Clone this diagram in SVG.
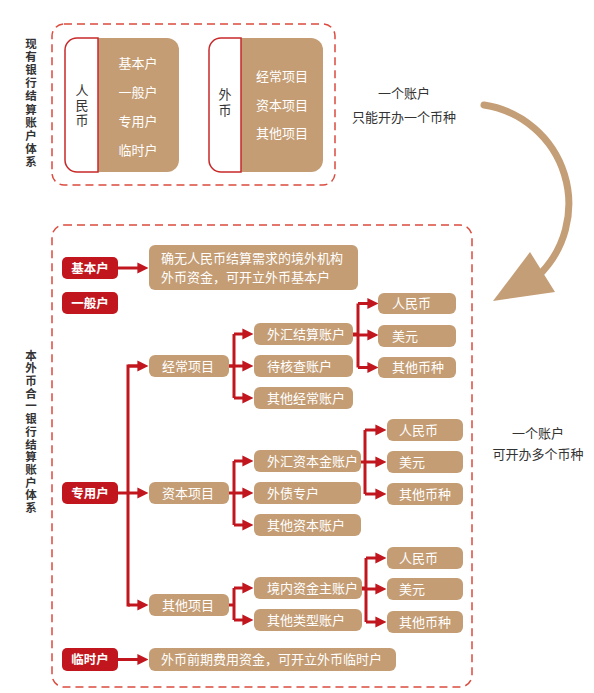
<svg xmlns="http://www.w3.org/2000/svg" width="594" height="693" viewBox="0 0 594 693">
<defs>
<style>
text{font-family:"Noto Sans CJK SC","Noto Sans",sans-serif;}
.dash{fill:none;stroke:#dc4b3e;stroke-width:1.5;stroke-dasharray:8 5;}
.tan{fill:#c49d74;}
.wt{fill:#ffffff;font-size:13px;}
.dk{fill:#333333;font-size:13px;}
.dkv{fill:#333333;font-size:13px;writing-mode:vertical-rl;}
.vt{fill:#333333;font-size:11.5px;font-weight:bold;writing-mode:vertical-rl;}
.red{fill:#c1161e;}
.rt{fill:#ffffff;font-size:12.5px;font-weight:bold;}
.cw{fill:#ffffff;stroke:#c8282a;stroke-width:1.5;}
.ln{fill:none;stroke:#c1161e;stroke-width:3;}
.ar{fill:none;stroke:#c1161e;stroke-width:3;marker-end:url(#ah);}
</style>
<marker id="ah" viewBox="0 0 10 10" refX="6" refY="5" markerWidth="11" markerHeight="12" markerUnits="userSpaceOnUse" orient="auto">
<path d="M0,0 L10,5 L0,10 Z" fill="#c1161e"/>
</marker>
</defs>

<!-- Top section -->
<rect class="dash" x="52" y="24" width="283" height="161" rx="12"/>
<g id="title-top">
<text class="vt" x="31" y="37.5" letter-spacing="1.7">现有银行结算账户体系</text>
</g>
<g id="card-rmb">
<rect class="tan" x="86" y="38" width="93" height="134" rx="12"/>
<path class="cw" d="M98,38 H77 A12,12 0 0 0 65,50 V160 A12,12 0 0 0 77,172 H98 Z"/>
<text class="dkv" x="82" y="83.5" letter-spacing="2">人民币</text>
<text class="wt" text-anchor="middle"><tspan x="138" y="67.5">基本户</tspan><tspan x="138" y="96.5">一般户</tspan><tspan x="138" y="125.5">专用户</tspan><tspan x="138" y="154.5">临时户</tspan></text>
</g>
<g id="card-fx">
<rect class="tan" x="229" y="38" width="94" height="134" rx="12"/>
<path class="cw" d="M241,38 H221 A12,12 0 0 0 209,50 V160 A12,12 0 0 0 221,172 H241 Z"/>
<text class="dkv" x="225" y="87.5" letter-spacing="3">外币</text>
<text class="wt" text-anchor="middle"><tspan x="282" y="80.5">经常项目</tspan><tspan x="282" y="109.5">资本项目</tspan><tspan x="282" y="137.5">其他项目</tspan></text>
</g>
<g id="note-top">
<text class="dk" text-anchor="middle"><tspan x="404" y="97.5">一个账户</tspan><tspan x="404" y="121.5">只能开办一个币种</tspan></text>
</g>
<g id="big-arrow">
<path d="M484,105 A100,100 0 0 1 537,277" fill="none" stroke="#c49e76" stroke-width="7" stroke-linecap="round"/>
<polygon points="530,252 555,292 493,301" fill="#c49e76"/>
</g>

<!-- Bottom section -->
<rect class="dash" x="52" y="225" width="420" height="462" rx="12"/>
<g id="title-bottom">
<text class="vt" x="31" y="349.5" letter-spacing="1.2">本外币合一银行结算账户体系</text>
</g>
<g id="note-right">
<text class="dk" text-anchor="middle"><tspan x="538" y="437.5">一个账户</tspan><tspan x="538" y="458.5">可开办多个币种</tspan></text>
</g>

<g id="connectors">
<path class="ar" d="M118,268 H144"/>
<path class="ar" d="M118,659.5 H144"/>
<path class="ar" d="M118,493 H144"/>
<path class="ln" d="M144,366 H128 V605 H130"/>
<path class="ar" d="M128,366 H144"/>
<path class="ar" d="M128,605 H144"/>
<path class="ln" d="M229,366 H234"/>
<path class="ln" d="M234,334 V398"/>
<path class="ar" d="M234,334 H249"/>
<path class="ar" d="M229,366 H249"/>
<path class="ar" d="M234,398 H249"/>
<path class="ln" d="M353,334 H358"/>
<path class="ln" d="M358,303.5 V367.5"/>
<path class="ar" d="M358,303.5 H374"/>
<path class="ar" d="M353,335 H374"/>
<path class="ar" d="M358,367.5 H374"/>
<path class="ln" d="M234,461 V525"/>
<path class="ar" d="M234,461 H249"/>
<path class="ar" d="M229,493 H249"/>
<path class="ar" d="M234,525 H249"/>
<path class="ln" d="M365,430 V494"/>
<path class="ar" d="M365,430 H382"/>
<path class="ar" d="M361,462 H382"/>
<path class="ar" d="M365,494 H382"/>
<path class="ln" d="M229,605 H234"/>
<path class="ln" d="M234,588 V620"/>
<path class="ar" d="M234,588 H249"/>
<path class="ar" d="M234,620 H249"/>
<path class="ln" d="M362,588 H366"/>
<path class="ln" d="M366,558 V622"/>
<path class="ar" d="M366,558 H382"/>
<path class="ar" d="M362,589 H382"/>
<path class="ar" d="M366,622 H382"/>
</g>

<g id="n-jiben"><rect class="red" x="62" y="257" width="56" height="22" rx="5"/><text class="rt" x="90" y="272.5" text-anchor="middle">基本户</text></g>
<g id="n-jiben-desc"><rect class="tan" x="149" y="245" width="209" height="45" rx="6"/><text class="wt"><tspan x="161" y="262.5">确无人民币结算需求的境外机构</tspan><tspan x="161" y="281.5">外币资金，可开立外币基本户</tspan></text></g>
<g id="n-yiban"><rect class="red" x="62" y="292" width="56" height="22" rx="5"/><text class="rt" x="90" y="307.5" text-anchor="middle">一般户</text></g>
<g id="n-zhuanyong"><rect class="red" x="62" y="482" width="56" height="22" rx="5"/><text class="rt" x="90" y="497.5" text-anchor="middle">专用户</text></g>
<g id="n-linshi"><rect class="red" x="62" y="648" width="56" height="23" rx="5"/><text class="rt" x="90" y="664" text-anchor="middle">临时户</text></g>
<g id="n-linshi-desc"><rect class="tan" x="149" y="648" width="247" height="23" rx="6"/><text class="wt" x="161" y="664">外币前期费用资金，可开立外币临时户</text></g>

<g id="n-jingchang"><rect class="tan" x="149" y="355" width="80" height="22" rx="6"/><text class="wt" x="162" y="370.5">经常项目</text></g>
<g id="n-ziben"><rect class="tan" x="149" y="482" width="80" height="22" rx="6"/><text class="wt" x="162" y="497.5">资本项目</text></g>
<g id="n-qita"><rect class="tan" x="149" y="594" width="80" height="22" rx="6"/><text class="wt" x="162" y="609.5">其他项目</text></g>

<g id="n-whjs"><rect class="tan" x="254" y="323" width="99" height="22" rx="6"/><text class="wt" x="267" y="338.5">外汇结算账户</text></g>
<g id="n-dhc"><rect class="tan" x="254" y="355" width="99" height="22" rx="6"/><text class="wt" x="267" y="370.5">待核查账户</text></g>
<g id="n-qtjc"><rect class="tan" x="254" y="387" width="99" height="22" rx="6"/><text class="wt" x="267" y="402.5">其他经常账户</text></g>
<g id="n-a-rmb"><rect class="tan" x="378" y="293" width="78" height="21" rx="6"/><text class="wt" x="392" y="308">人民币</text></g>
<g id="n-a-usd"><rect class="tan" x="378" y="325" width="78" height="22" rx="6"/><text class="wt" x="392" y="340.5">美元</text></g>
<g id="n-a-oth"><rect class="tan" x="378" y="357" width="78" height="21" rx="6"/><text class="wt" x="392" y="372">其他币种</text></g>

<g id="n-whzb"><rect class="tan" x="254" y="450" width="107" height="22" rx="6"/><text class="wt" x="267" y="465.5">外汇资本金账户</text></g>
<g id="n-wz"><rect class="tan" x="254" y="482" width="107" height="22" rx="6"/><text class="wt" x="267" y="497.5">外债专户</text></g>
<g id="n-qtzb"><rect class="tan" x="254" y="514" width="107" height="22" rx="6"/><text class="wt" x="267" y="529.5">其他资本账户</text></g>
<g id="n-b-rmb"><rect class="tan" x="387" y="419" width="76" height="22" rx="6"/><text class="wt" x="399" y="434.5">人民币</text></g>
<g id="n-b-usd"><rect class="tan" x="387" y="451" width="76" height="22" rx="6"/><text class="wt" x="399" y="466.5">美元</text></g>
<g id="n-b-oth"><rect class="tan" x="387" y="483" width="76" height="22" rx="6"/><text class="wt" x="399" y="498.5">其他币种</text></g>

<g id="n-jnzj"><rect class="tan" x="254" y="577" width="108" height="22" rx="6"/><text class="wt" x="267" y="592.5">境内资金主账户</text></g>
<g id="n-qtlx"><rect class="tan" x="254" y="609" width="108" height="22" rx="6"/><text class="wt" x="267" y="624.5">其他类型账户</text></g>
<g id="n-c-rmb"><rect class="tan" x="387" y="547" width="76" height="22" rx="6"/><text class="wt" x="399" y="562.5">人民币</text></g>
<g id="n-c-usd"><rect class="tan" x="387" y="578" width="76" height="22" rx="6"/><text class="wt" x="399" y="593.5">美元</text></g>
<g id="n-c-oth"><rect class="tan" x="387" y="611" width="76" height="22" rx="6"/><text class="wt" x="399" y="626.5">其他币种</text></g>
</svg>
